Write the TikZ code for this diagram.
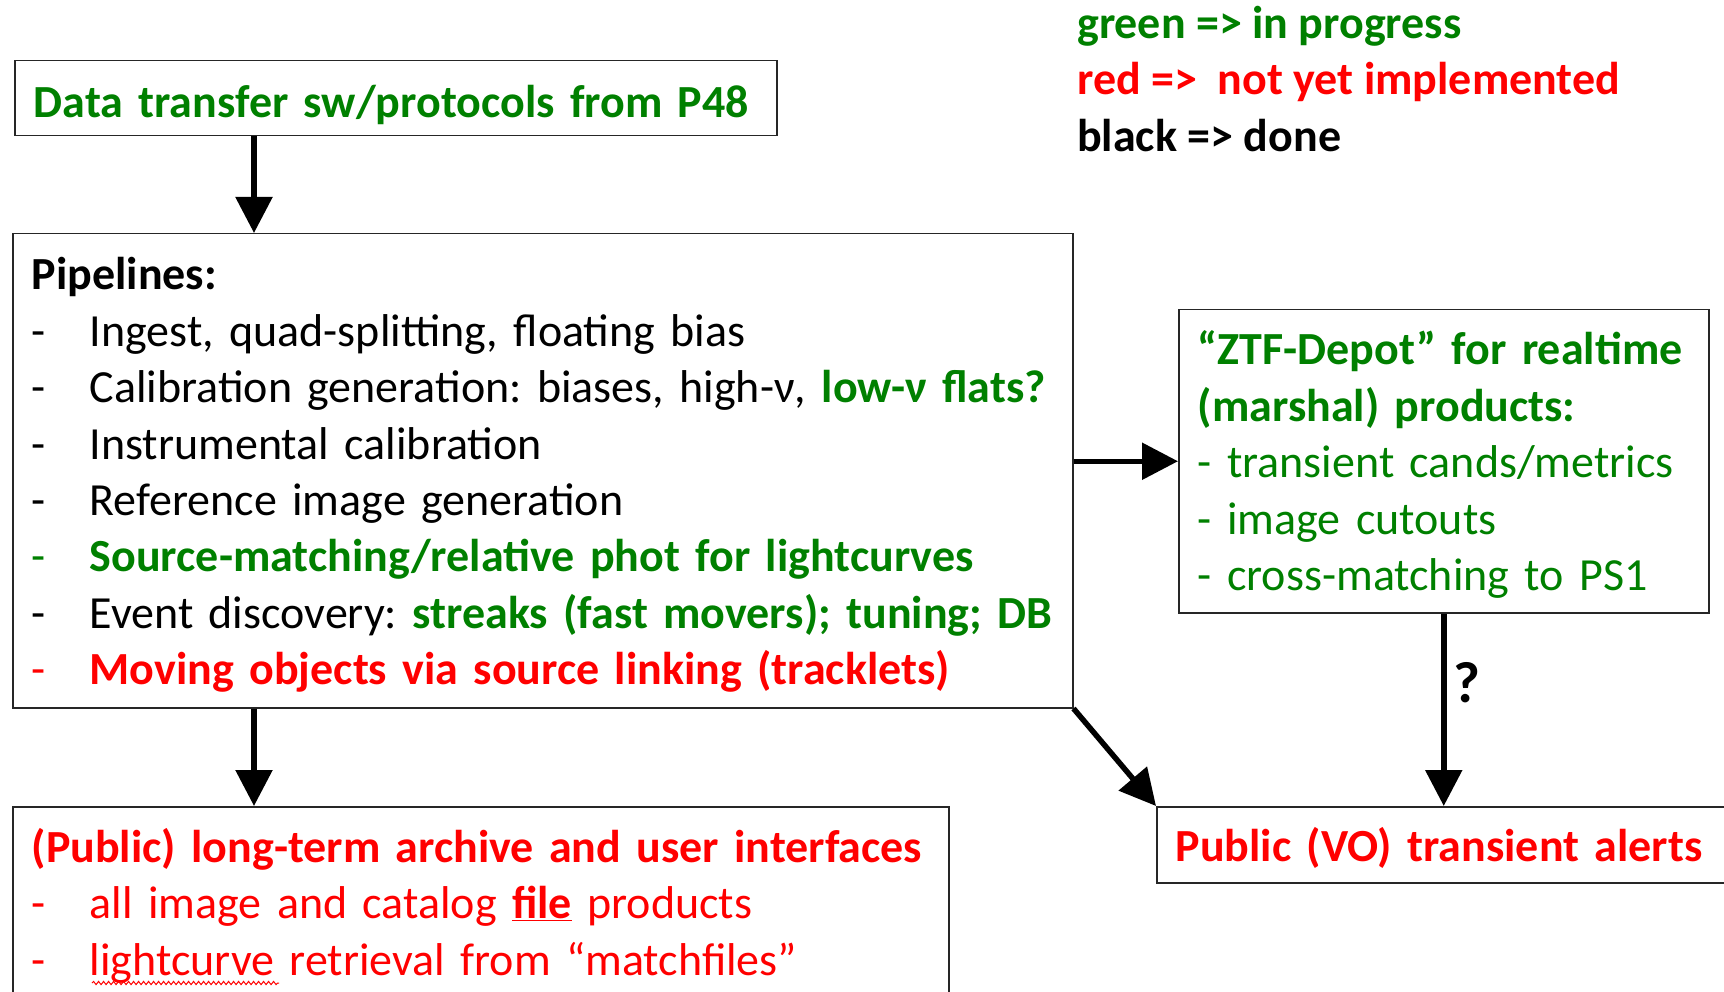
\documentclass[tikz,border=0pt]{standalone}
\usepackage{fontspec}
\setmainfont{Carlito}
\usetikzlibrary{positioning}
\usetikzlibrary{arrows.meta}
\usetikzlibrary{decorations.pathmorphing}

\definecolor{inprog}{RGB}{0,128,0}
\definecolor{notyet}{RGB}{255,0,0}
\newcommand\bul{\makebox[58pt][l]{-}}
\frenchspacing

\begin{document}
\begin{tikzpicture}[
  x=1pt, y=-1pt,
  font=\fontsize{46}{56.4}\selectfont,
  box/.style={draw=black!85, line width=1.5pt, anchor=north west, align=left, inner xsep=19pt, inner ysep=0pt,
    execute at begin node={\rule{0pt}{41pt}}},
  arrow/.style={-{Triangle[width=36pt,length=36pt]}, line width=5.5pt},
  squiggle/.style={notyet, line width=1pt, decorate, decoration={snake, amplitude=1.6pt, segment length=5pt}}
]
\useasboundingbox (0,0) rectangle (1724,992);
\clip (0,0) rectangle (1724,992);

% status legend
\node[anchor=west, align=left, inner sep=0pt, font=\fontsize{46}{56.4}\selectfont\bfseries] (legend) at (1077,79)
  {\textcolor{inprog}{green => in progress}\\
   \textcolor{notyet}{red =>\ \ not yet implemented}\\
   black => done};

\node[box, minimum width=762pt, minimum height=75pt, text width=724pt] (xfer) at (14,60)
  {\rule{0pt}{46pt}\textcolor{inprog}{\bfseries Data transfer sw/protocols from P48}};

\node[box, minimum width=1060pt, minimum height=474pt, text width=1022pt] (pipe) at (12,233)
  {\textbf{Pipelines:}\\
   \bul Ingest, quad-splitting, floating bias\\
   \mbox{\bul Calibration generation: biases, high-ν, \textcolor{inprog}{\bfseries low-ν flats?}}\\
   \bul Instrumental calibration\\
   \bul Reference image generation\\
   \textcolor{inprog}{\bul\bfseries Source-matching/relative phot for lightcurves}\\
   \mbox{\bul Event discovery: \textcolor{inprog}{\bfseries streaks (fast movers); tuning; DB}}\\
   \textcolor{notyet}{\bul\bfseries Moving objects via source linking (tracklets)}};

\node[box, minimum width=530pt, minimum height=303pt, text width=492pt, text=inprog] (ztf) at (1178,309)
  {\mbox{\textbf{“ZTF-Depot” for realtime}}\\
   \textbf{(marshal) products:}\\
   \mbox{- transient cands/metrics}\\
   - image cutouts\\
   - cross-matching to PS1};

\node[box, minimum width=936pt, minimum height=191pt, text width=898pt, text=notyet] (arch) at (12,806)
  {\mbox{\textbf{(Public) long-term archive and user interfaces}}\\
   \bul all image and catalog \underline{\textbf{file}} products\\
   \bul lightcurve retrieval from “matchfiles”};

\node[box, minimum width=620pt, minimum height=76pt, text width=582pt, text=notyet] (alert) at (1156,806)
  {\textbf{Public (VO) transient alerts}};

% spell-check mark under lightcurve
\draw[squiggle] (92,983) -- (279,983);

\draw[arrow] ([xshift=240pt]xfer.south west) -- ([xshift=242pt]pipe.north west);
\draw[arrow] ([xshift=242pt]pipe.south west) -- ([xshift=242pt]arch.north west);
\draw[arrow] (pipe.east |- ztf.west) -- (ztf.west);
\draw[arrow] (ztf.south) -- node[right, pos=0.36, inner sep=7pt, font=\fontsize{58}{60}\selectfont\bfseries] (qmark) {?} (ztf.south |- alert.north);
\draw[arrow] (pipe.south east) -- (alert.north west);

\end{tikzpicture}
\end{document}
